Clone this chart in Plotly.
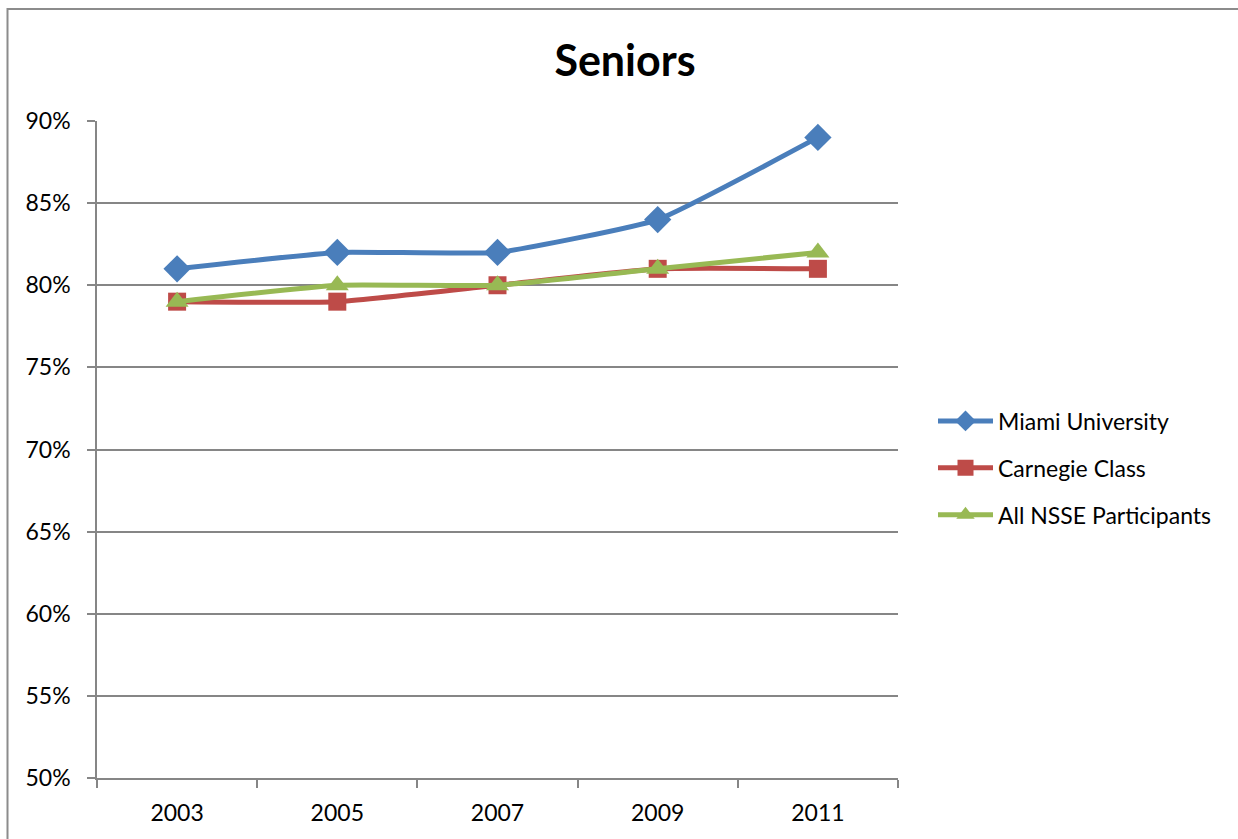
import plotly.graph_objects as go

years = ["2003", "2005", "2007", "2009", "2011"]
miami = [0.81, 0.82, 0.82, 0.84, 0.89]
carnegie = [0.79, 0.79, 0.80, 0.81, 0.81]
nsse = [0.79, 0.80, 0.80, 0.81, 0.82]

series = [
    ("Miami University", miami, "#4A7EBB", "diamond", 21),
    ("Carnegie Class", carnegie, "#BE4B48", "square", 18),
    ("All NSSE Participants", nsse, "#98B954", "triangle-up", 20),
]

fig = go.Figure()
for i, (name, vals, col, sym, sz) in enumerate(series):
    fig.add_trace(go.Scatter(
        x=years, y=vals, name=name, mode="lines+markers",
        line=dict(color=col, width=5, shape="spline", smoothing=0.4),
        marker=dict(symbol=sym, size=sz, color=col),
        legendgroup=f"g{i}",
    ))

L, R, T, B = 97, 340, 121, 61
W, H = 1238, 839
pw = W - L - R
ph = H - T - B

def px(x):
    return (x - L) / pw

def py(y):
    return (H - B - y) / ph

fig.add_shape(type="rect", xref="paper", yref="paper",
              x0=px(7.5), x1=px(1245), y0=py(9), y1=py(850),
              line=dict(color="#8C8C8C", width=2), fillcolor="rgba(0,0,0,0)", layer="below")

fig.update_layout(
    width=W, height=H,
    margin=dict(l=L, r=R, t=T, b=B),
    paper_bgcolor="white", plot_bgcolor="white",
    font=dict(family="Lato, 'Open Sans', sans-serif", size=23, color="black"),
    title=dict(text="<b>Seniors</b>", x=625 / W, xref="container", xanchor="center",
               y=1 - 61 / H, yref="container", yanchor="middle",
               font=dict(size=43, color="black")),
    showlegend=True,
    legend=dict(x=px(933), y=py(468), xanchor="left", yanchor="middle",
                font=dict(size=23), tracegroupgap=14, itemwidth=55,
                bgcolor="rgba(0,0,0,0)"),
    xaxis=dict(type="category", tickson="boundaries", ticks="outside", ticklen=8,
               tickcolor="#868686", tickwidth=1.5, showgrid=False,
               showline=True, linecolor="#868686", linewidth=1.5,
               range=[-0.5, 4.5], tickfont=dict(size=23), ticklabelstandoff=14),
    yaxis=dict(range=[0.5, 0.9], dtick=0.05, tickformat=".0%", ticks="outside",
               ticklen=8, tickcolor="#868686", tickwidth=1.5,
               showgrid=True, gridcolor="#868686", gridwidth=1.5,
               showline=True, linecolor="#868686", linewidth=1.5,
               zeroline=False, tickfont=dict(size=23), ticklabelstandoff=12),
)

fig.write_html("out.html")
